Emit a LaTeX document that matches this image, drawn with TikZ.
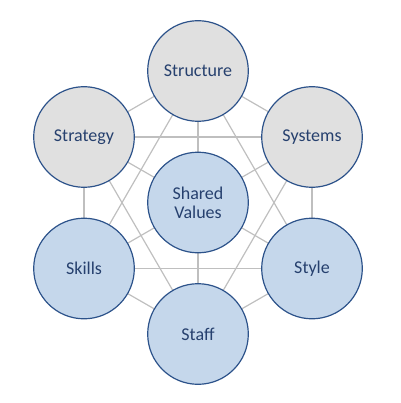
\documentclass[tikz,border=0pt]{standalone}
\usepackage{fontspec}
\setmainfont{Carlito}
\definecolor{edgegray}{RGB}{191,191,191}
\definecolor{ringblue}{RGB}{44,82,138}
\definecolor{txtblue}{RGB}{38,64,110}
\definecolor{fillgray}{RGB}{224,224,224}
\definecolor{fillblue}{RGB}{197,215,235}
\begin{document}
\begin{tikzpicture}[x=1pt,y=-1pt,
  sevens/.style={circle, draw=ringblue, line width=1.2pt, minimum size=100.6pt, inner sep=0pt,
    text=txtblue, font=\fontsize{18}{19}\selectfont, align=center},
  grayc/.style={sevens, fill=fillgray},
  bluec/.style={sevens, fill=fillblue},
  link/.style={draw=edgegray, line width=1.2pt}]
\useasboundingbox (0,0) rectangle (400,403);
\coordinate (pStructure) at (198,71);
\coordinate (pStrategy) at (84,137);
\coordinate (pSystems) at (312,137);
\coordinate (pShared) at (198,202.5);
\coordinate (pSkills) at (84,268.5);
\coordinate (pStyle) at (312,268.5);
\coordinate (pStaff) at (198,334);
% connectors
\foreach \a/\b in {Structure/Systems, Systems/Style, Style/Staff, Staff/Skills, Skills/Strategy, Strategy/Structure,
  Strategy/Systems, Skills/Style, Structure/Skills, Structure/Style, Staff/Strategy, Staff/Systems,
  Shared/Structure, Shared/Strategy, Shared/Systems, Shared/Skills, Shared/Style, Shared/Staff}
  \path[link] (p\a) -- (p\b);
\node[grayc] (structure) at (pStructure) {Structure};
\node[grayc] (strategy) at (pStrategy) {Strategy};
\node[grayc] (systems) at (pSystems) {Systems};
\node[bluec] (shared) at (pShared) {Shared\\Values};
\node[bluec] (skills) at (pSkills) {Skills};
\node[bluec] (style) at (pStyle) {Style};
\node[bluec] (staff) at (pStaff) {Staff};
\end{tikzpicture}
\end{document}
